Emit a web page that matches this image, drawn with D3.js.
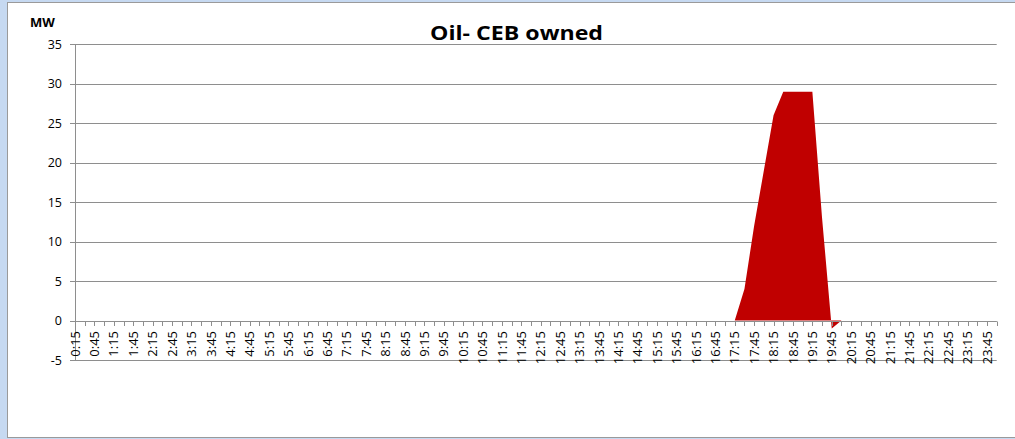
<!DOCTYPE html>
<html lang="en">
<head>
<meta charset="UTF-8">
<script src="https://cdnjs.cloudflare.com/ajax/libs/d3/7.8.5/d3.min.js"></script>
<title>Oil- CEB owned</title>
<style>
    html, body { margin: 0; padding: 0; background: #c6d9f1; }
    svg { display: block; }
    text { font-family: "Open Sans", sans-serif; fill: #000; }
</style>
</head>
<body>
<svg id="chart" width="1015" height="439"></svg>
<script>
    // 15 minute slots, 0:15 .. 24:00
    var times = [
        '0:15','0:30','0:45','1:00','1:15','1:30','1:45','2:00',
        '2:15','2:30','2:45','3:00','3:15','3:30','3:45','4:00',
        '4:15','4:30','4:45','5:00','5:15','5:30','5:45','6:00',
        '6:15','6:30','6:45','7:00','7:15','7:30','7:45','8:00',
        '8:15','8:30','8:45','9:00','9:15','9:30','9:45','10:00',
        '10:15','10:30','10:45','11:00','11:15','11:30','11:45','12:00',
        '12:15','12:30','12:45','13:00','13:15','13:30','13:45','14:00',
        '14:15','14:30','14:45','15:00','15:15','15:30','15:45','16:00',
        '16:15','16:30','16:45','17:00','17:15','17:30','17:45','18:00',
        '18:15','18:30','18:45','19:00','19:15','19:30','19:45','20:00',
        '20:15','20:30','20:45','21:00','21:15','21:30','21:45','22:00',
        '22:15','22:30','22:45','23:00','23:15','23:30','23:45','24:00'
    ];

    // MW, one value per slot
    var oilCeb = [
        0, 0, 0, 0, 0, 0, 0, 0,
        0, 0, 0, 0, 0, 0, 0, 0,
        0, 0, 0, 0, 0, 0, 0, 0,
        0, 0, 0, 0, 0, 0, 0, 0,
        0, 0, 0, 0, 0, 0, 0, 0,
        0, 0, 0, 0, 0, 0, 0, 0,
        0, 0, 0, 0, 0, 0, 0, 0,
        0, 0, 0, 0, 0, 0, 0, 0,
        0, 0, 0, 0, 0, 4, 12, 19,
        26, 29, 29, 29, 29, 13, -1, 0,
        0, 0, 0, 0, 0, 0, 0, 0,
        0, 0, 0, 0, 0, 0, 0, 0
    ];

    var yTicks = [-5, 0, 5, 10, 15, 20, 25, 30, 35];

    var svg = d3.select('#chart');

    // white chart panel
    svg.append('rect')
        .attr('x', 7.5).attr('y', 2.5)
        .attr('width', 1020).attr('height', 435)
        .attr('fill', '#fff')
        .attr('stroke', '#9a9a9a');

    var plotLeft = 75, plotRight = 996.7, plotTop = 44.3, plotBottom = 360;

    var x = d3.scalePoint().domain(times).range([plotLeft, plotRight]);
    var y = d3.scaleLinear().domain([-5, 35]).range([plotBottom, plotTop]);

    // grid lines
    svg.append('g')
        .selectAll('line')
        .data(yTicks)
        .enter().append('line')
        .attr('x1', plotLeft - 5).attr('x2', plotRight)
        .attr('y1', function(d) { return Math.round(y(d)) + 0.5; })
        .attr('y2', function(d) { return Math.round(y(d)) + 0.5; })
        .attr('stroke', '#8e8e8e');

    // y labels
    svg.append('g')
        .selectAll('text')
        .data(yTicks)
        .enter().append('text')
        .attr('x', 62)
        .attr('y', function(d) { return y(d); })
        .attr('dy', '0.36em')
        .attr('text-anchor', 'end')
        .style('font-size', '12.5px')
        .text(function(d) { return d; });

    // y axis line
    svg.append('line')
        .attr('x1', plotLeft + 0.5).attr('x2', plotLeft + 0.5)
        .attr('y1', plotTop).attr('y2', plotBottom)
        .attr('stroke', '#8e8e8e');

    // area
    var area = d3.area()
        .x(function(d, i) { return x(times[i]); })
        .y0(y(0))
        .y1(function(d) { return y(d); });

    svg.append('path')
        .datum(oilCeb)
        .attr('d', area)
        .attr('fill', '#c00000');

    // category axis on the zero line
    var zeroY = Math.round(y(0)) + 0.5;
    svg.append('line')
        .attr('x1', plotLeft).attr('x2', plotRight)
        .attr('y1', zeroY).attr('y2', zeroY)
        .attr('stroke', '#8e8e8e');

    svg.append('g')
        .selectAll('line')
        .data(times)
        .enter().append('line')
        .attr('x1', function(d) { return Math.round(x(d)) + 0.5; })
        .attr('x2', function(d) { return Math.round(x(d)) + 0.5; })
        .attr('y1', zeroY).attr('y2', zeroY + 4.5)
        .attr('stroke', '#8e8e8e');

    svg.append('g')
        .selectAll('text')
        .data(times.filter(function(d, i) { return i % 2 === 0; }))
        .enter().append('text')
        .attr('transform', function(d) {
            return 'translate(' + x(d) + ',' + (zeroY + 9.5) + ') rotate(-90)';
        })
        .attr('dy', '0.36em')
        .attr('text-anchor', 'end')
        .style('font-size', '13px')
        .text(function(d) { return d; });

    // title and unit
    svg.append('text')
        .attr('x', 516.5).attr('y', 39.5)
        .attr('text-anchor', 'middle')
        .attr('textLength', 173)
        .attr('lengthAdjust', 'spacingAndGlyphs')
        .style('font-size', '20px')
        .style('font-weight', 'bold')
        .text('Oil- CEB owned');

    svg.append('text')
        .attr('x', 30).attr('y', 27)
        .style('font-size', '13px')
        .style('font-weight', 'bold')
        .text('MW');
</script>
</body>
</html>
